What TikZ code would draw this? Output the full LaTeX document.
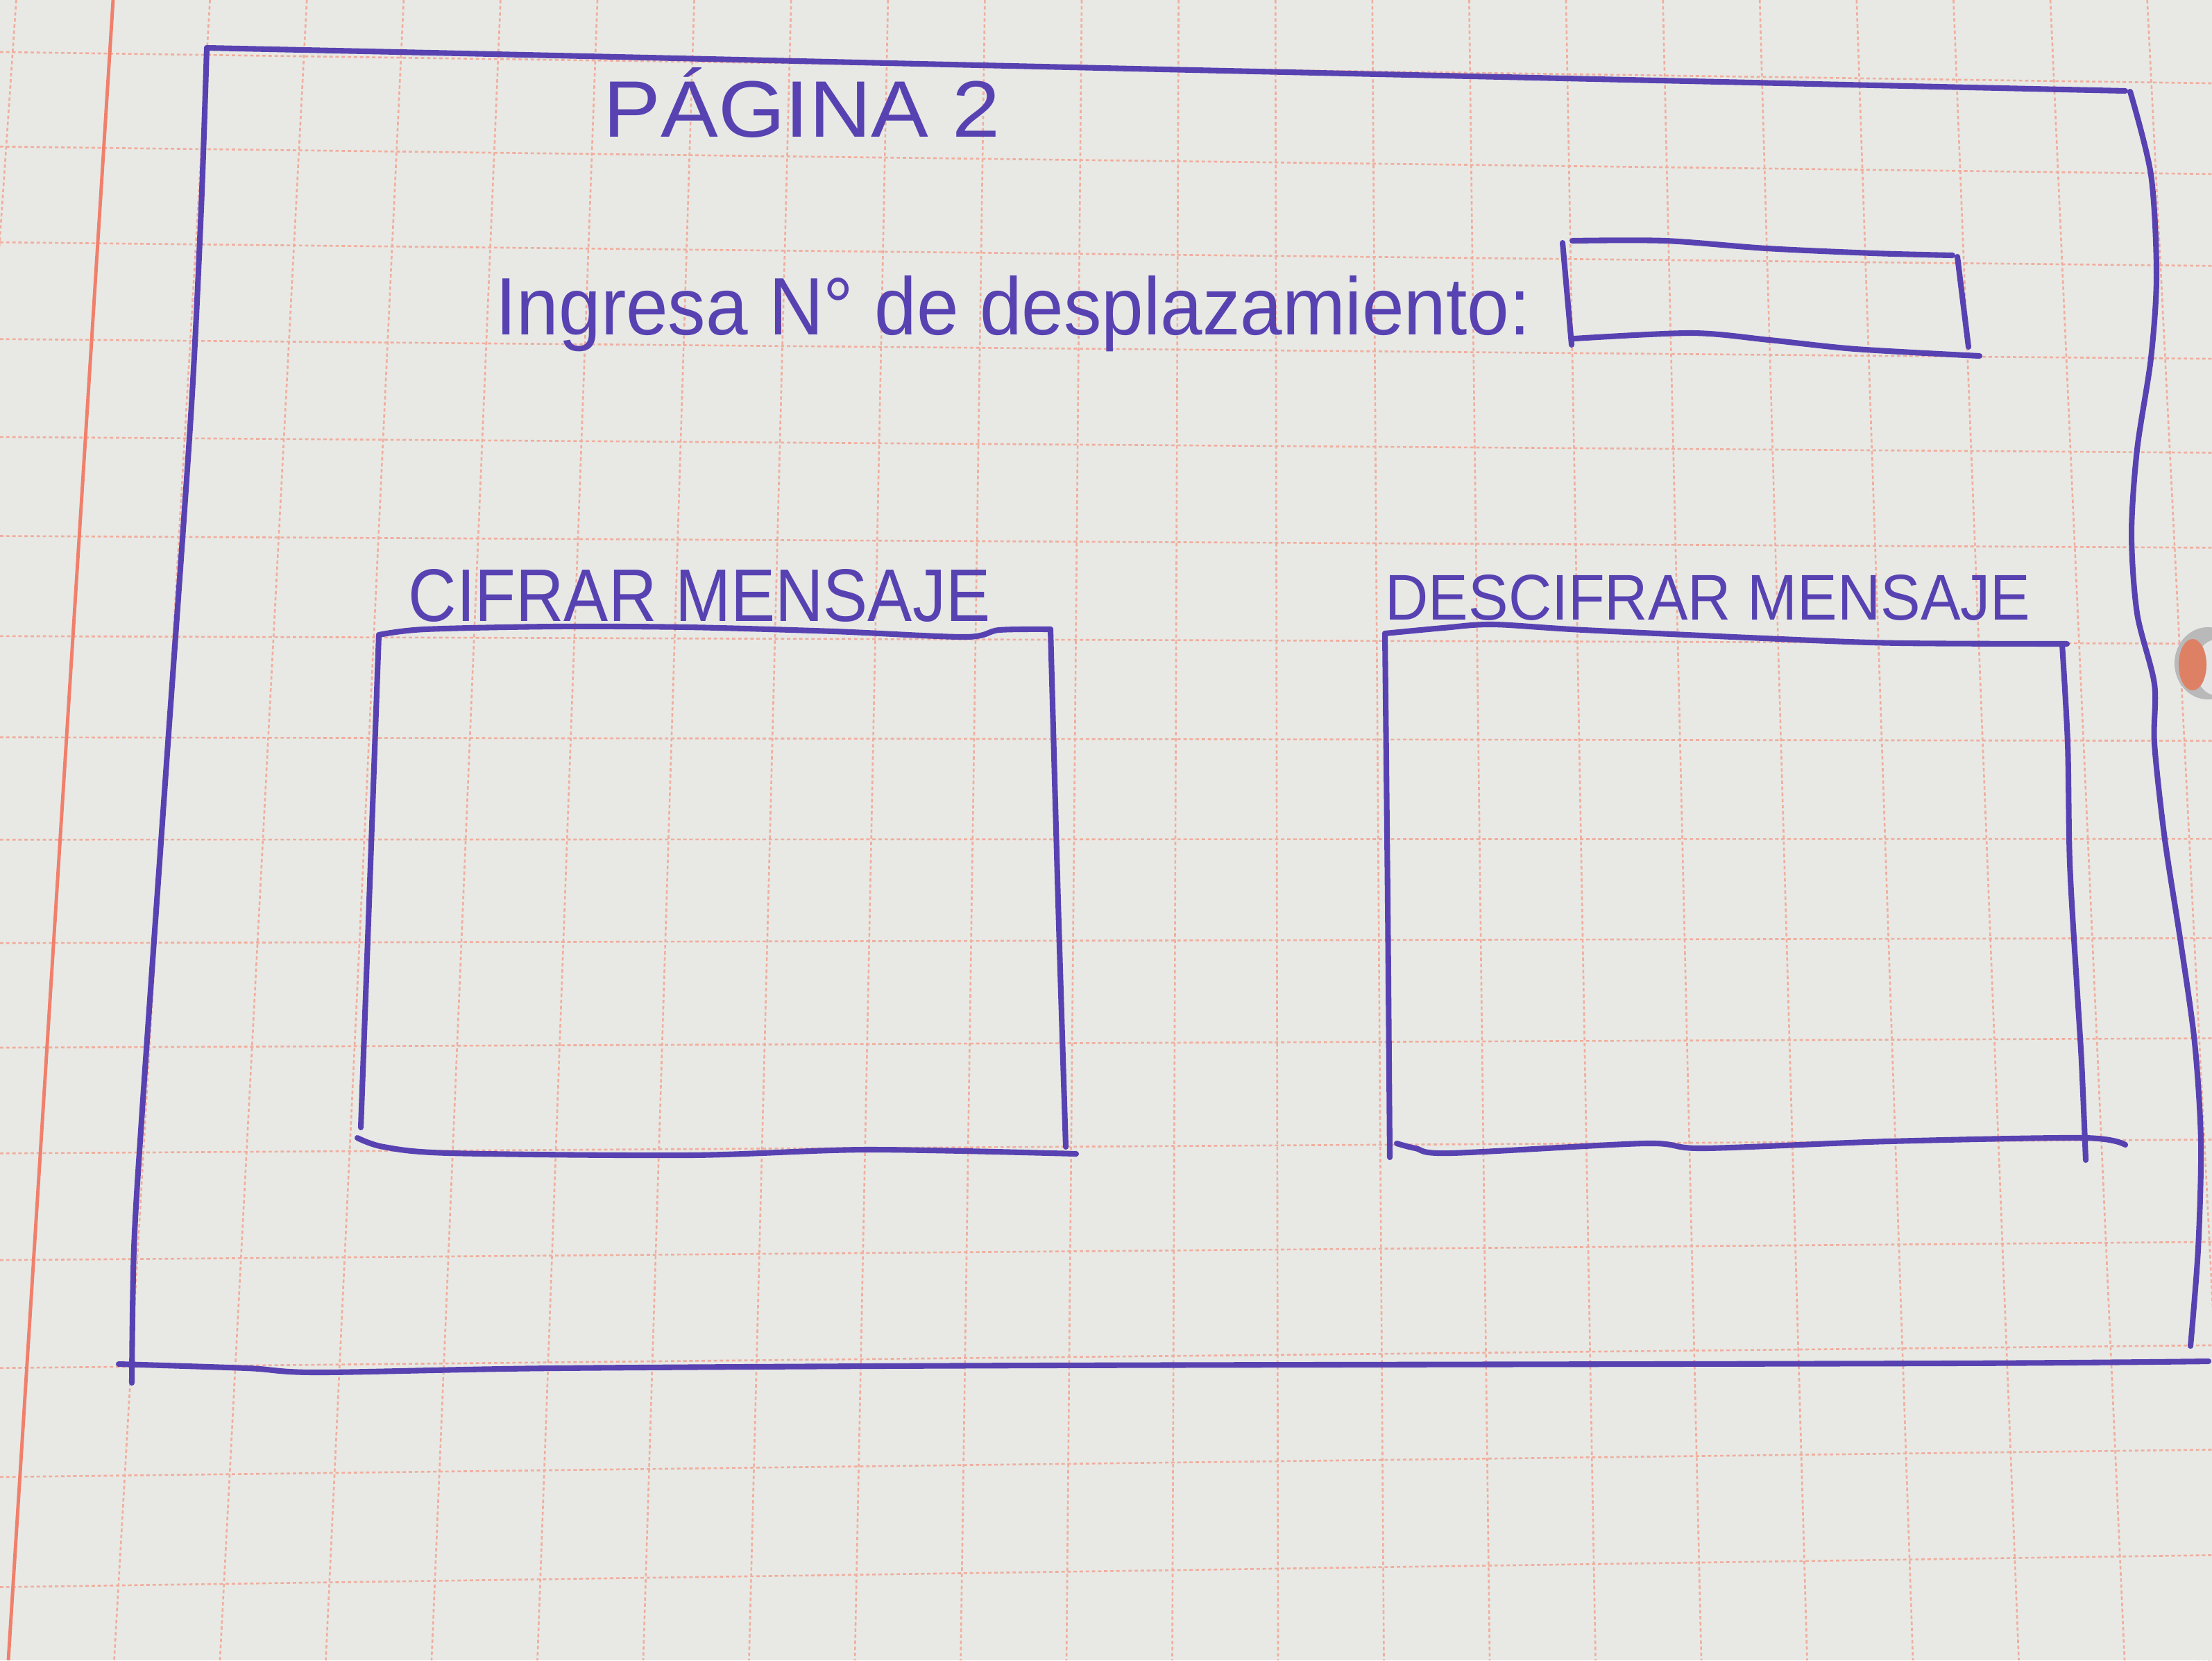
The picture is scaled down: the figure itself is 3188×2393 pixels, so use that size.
\documentclass[tikz,border=0pt]{standalone}
\usepackage{fontspec}
\setmainfont{Liberation Sans}
\usepackage{graphicx}

\definecolor{paper}{HTML}{E8E9E5}
\definecolor{ink}{HTML}{5842B2}
\definecolor{gridpink}{HTML}{F0AE9E}
\definecolor{marginred}{HTML}{F0806C}
\definecolor{holesalmon}{HTML}{DE8064}

\tikzset{
  gridline/.style={gridpink, line width=0.75pt, dash pattern=on 1.4pt off 1.1pt},
  marginline/.style={marginred, line width=1.4pt},
  pen/.style={ink, line width=2.3pt, line cap=round, line join=round},
  handtext/.style={ink, inner sep=0pt, anchor=base west},
}

\begin{document}
\begin{tikzpicture}[x=0.01cm, y=-0.01cm]
  \useasboundingbox (0,0) rectangle (3188,2393);
  \fill[paper] (0,0) rectangle (3188,2393);

  % squared paper, slightly in perspective
  \begin{scope}
    \clip (0,0) rectangle (3188,2393);
    \foreach \k in {-1,...,21} {
      \pgfmathsetmacro\xt{163+139.6*\k}
      \pgfmathsetmacro\xb{12+152.5*\k}
      \draw[gridline] (\xt,0) -- (\xb,2393);
    }
    \foreach \n in {0,...,16} {
      \pgfmathsetmacro\yl{75+135.5*\n+0.8*\n*\n}
      \pgfmathsetmacro\yr{120+130.1*\n+0.755*\n*\n}
      \draw[gridline] (0,\yl) -- (3188,\yr);
    }
    \draw[marginline] (163,0) -- (12,2393);

    % punched hole at the right edge
    \fill[gray!55] (3182,956) ellipse [x radius=0.48cm, y radius=0.52cm];
    \fill[white!80!gray] (3194,962) ellipse [x radius=0.3cm, y radius=0.4cm];
    \fill[holesalmon] (3160,958) ellipse [x radius=0.2cm, y radius=0.37cm];
  \end{scope}

  % outer page frame
  \draw[pen] plot[smooth, tension=0.5] coordinates
    {(298,69) (800,80) (1500,96) (2300,114) (3063,131)};
  \draw[pen] plot[smooth, tension=0.5] coordinates
    {(298,69) (290,300) (275,600) (240,1100) (205,1600) (193,1800) (190,1993)};
  \draw[pen] plot[smooth, tension=0.5] coordinates
    {(171,1966) (357,1972) (459,1978) (800,1972) (1500,1968) (2800,1965) (3183,1962)};
  \draw[pen] plot[smooth, tension=0.5] coordinates
    {(3070,132) (3100,252) (3108,396) (3100,516) (3080,648) (3072,769)
     (3080,884) (3105,986) (3105,1072) (3120,1210) (3143,1359) (3163,1503)
     (3172,1646) (3168,1800) (3157,1940)};

  % title
  \node[handtext] (titulo) at (869,197) {\resizebox{5.72cm}{1.0cm}{PÁGINA 2}};

  % shift input
  \node[handtext] (ingresa) at (714,482)
    {\resizebox{14.9cm}{0.85cm}{Ingresa N° de desplazamiento:}};
  \draw[pen] (2252,350) -- (2265,497);
  \draw[pen] plot[smooth, tension=0.5] coordinates
    {(2266,347) (2400,347) (2546,358) (2700,365) (2814,368)};
  \draw[pen] (2821,370) -- (2837,500);
  \draw[pen] plot[smooth, tension=0.5] coordinates
    {(2269,488) (2438,480) (2550,490) (2674,503) (2853,513)};

  % encrypt panel
  \node[handtext] (cifrar) at (588,895)
    {\resizebox{8.38cm}{0.75cm}{CIFRAR MENSAJE}};
  \draw[pen] plot[smooth, tension=0.5] coordinates
    {(546,915) (612,907) (800,903) (991,904) (1202,910) (1391,918) (1440,908) (1514,907)};
  \draw[pen] plot[smooth, tension=0.5] coordinates {(546,915) (532,1300) (520,1625)};
  \draw[pen] plot[smooth, tension=0.5] coordinates {(1514,907) (1525,1300) (1536,1653)};
  \draw[pen] plot[smooth, tension=0.5] coordinates
    {(515,1640) (553,1653) (649,1662) (994,1665) (1250,1657) (1551,1663)};

  % decrypt panel
  \node[handtext] (descifrar) at (1996,893)
    {\resizebox{9.29cm}{0.65cm}{DESCIFRAR MENSAJE}};
  \draw[pen] plot[smooth, tension=0.5] coordinates
    {(1996,913) (2080,905) (2152,900) (2283,908) (2589,922) (2742,927) (2979,928)};
  \draw[pen] plot[smooth, tension=0.5] coordinates {(1996,913) (2000,1300) (2003,1668)};
  \draw[pen] plot[smooth, tension=0.5] coordinates
    {(2972,929) (2980,1072) (2983,1244) (2993,1417) (3000,1531) (3006,1672)};
  \draw[pen] plot[smooth, tension=0.5] coordinates
    {(2013,1648) (2040,1655) (2090,1662) (2371,1648) (2455,1655) (2722,1645) (3003,1640) (3063,1650)};
\end{tikzpicture}
\end{document}
